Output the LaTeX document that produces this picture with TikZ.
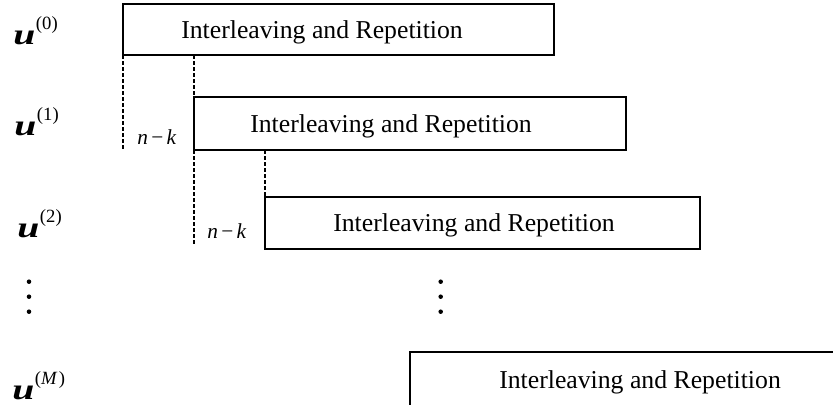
\documentclass[tikz,border=0pt]{standalone}
\usepackage{fontspec}
\usepackage{graphicx}
\setmainfont{Liberation Serif}
\newcommand\ulabel[1]{\scalebox{1.35}[1]{\fontsize{22}{24}\selectfont\bfseries\itshape u}\kern0.5pt\raisebox{11pt}{\fontsize{14}{16}\selectfont(#1)}}
\begin{document}
\begin{tikzpicture}[x=0.75pt,y=-0.75pt,
  box/.style={draw, line width=1.1pt, rectangle, anchor=north west, inner sep=0pt, outer sep=0pt},
  boxtext/.style={anchor=base west, inner sep=0pt, font=\fontsize{19.3}{22}\selectfont},
  ulab/.style={anchor=base west, inner sep=0pt},
  nk/.style={anchor=base west, inner sep=0pt, font=\fontsize{16}{18}\selectfont},
  guide/.style={line width=0.9pt, dash pattern=on 3pt off 1.5pt},
  dotmark/.style={circle, fill=black, inner sep=0pt, minimum size=3.4pt}]
\useasboundingbox (0,0) rectangle (833,404);
\clip (0,0) rectangle (833,404);
% boxes
\node[box, minimum width=323.25pt, minimum height=38.25pt] (b0) at (123,4) {};
\node[box, minimum width=324pt, minimum height=39.75pt] (b1) at (194,97) {};
\node[box, minimum width=326.25pt, minimum height=39pt] (b2) at (265,197) {};
\node[box, minimum width=323.25pt, minimum height=45pt] (bM) at (410,352) {};
% box texts
\node[boxtext] (t0) at (181,38) {Interleaving and Repetition};
\node[boxtext] (t1) at (250,132) {Interleaving and Repetition};
\node[boxtext] (t2) at (333,231.5) {Interleaving and Repetition};
\node[boxtext] (tM) at (499,388) {Interleaving and Repetition};
% u labels
\node[ulab] (u0) at (13,44) {\ulabel{0}};
\node[ulab] (u1) at (14,135) {\ulabel{1}};
\node[ulab] (u2) at (17,237.3) {\ulabel{2}};
\node[ulab] (uM) at (12,399.5) {\ulabel{\textit{M}\kern1pt}};
% n-k labels
\node[nk] (nk1) at (137,144) {\textit{n}\kern2.5pt−\kern2.5pt\textit{k}};
\node[nk] (nk2) at (207,238) {\textit{n}\kern2.5pt−\kern2.5pt\textit{k}};
% dashed guides
\coordinate (d0) at (123,151);
\coordinate (d1) at (194,244);
\draw[guide] (b0.south west) -- (d0);
\draw[guide] (b1.north west |- b0.south) -- (b1.north west);
\draw[guide] (b1.south west) -- (d1);
\draw[guide] (b2.north west |- b1.south) -- (b2.north west);
% vertical dots
\foreach \i/\yy in {1/281.7,2/296.7,3/311.7}{
  \node[dotmark] (la\i) at (29,\yy) {};
  \node[dotmark] (ra\i) at (440.7,\yy) {};
}
\end{tikzpicture}
\end{document}
